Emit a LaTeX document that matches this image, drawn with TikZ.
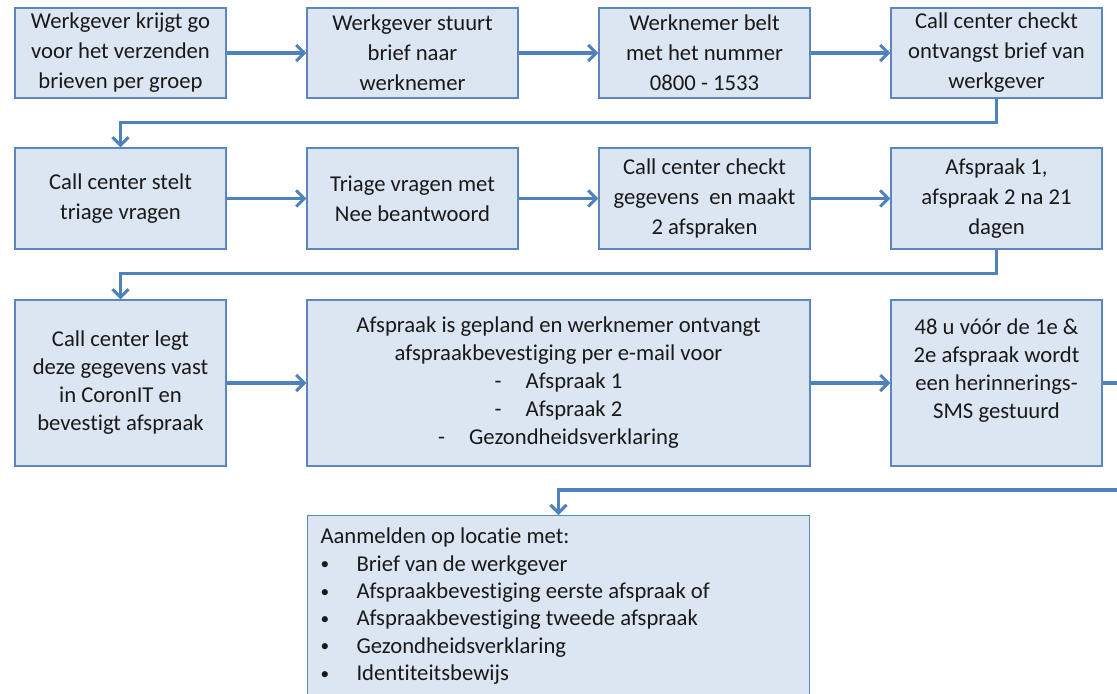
\documentclass[tikz,border=0pt]{standalone}
\usepackage{fontspec}
\setmainfont{Carlito}[Ligatures=NoCommon]
\usetikzlibrary{arrows.meta}
\definecolor{vakvul}{HTML}{DCE6F2}
\definecolor{vakrand}{HTML}{5B86BE}
\definecolor{pijlblauw}{HTML}{4F81BD}
\newcommand{\opsom}{\makebox[27pt][l]{\raisebox{1pt}{\fontsize{13}{13}\selectfont •}}}
\tikzset{
  vak/.style={draw=vakrand, fill=vakvul, line width=0.9pt, align=center, inner sep=2pt,
    minimum width=158.25pt, text=black!90, font=\fontsize{17}{22.5}\selectfont},
  pijl/.style={draw=pijlblauw, line width=2.3pt, ->},
}
\begin{document}
\begin{tikzpicture}[x=0.75pt, y=-0.75pt, >={Straight Barb[length=6pt,width=12pt]}]
  \useasboundingbox (0,0) rectangle (1117,693);
  % rij 1
  \node[vak, minimum height=67.5pt] (werkgever) at (120.5,53) {Werkgever krijgt go\\voor het verzenden\\brieven per groep};
  \node[vak, minimum height=67.5pt] (brief) at (412.5,53) {Werkgever stuurt\\brief naar\\werknemer};
  \node[vak, minimum height=67.5pt] (bellen) at (704.5,53) {Werknemer belt\\met het nummer\\0800 - 1533};
  \node[vak, minimum height=67.5pt] (check) at (996.5,53) {Call center checkt\\ontvangst brief van\\werkgever};
  % rij 2
  \node[vak, minimum height=75.75pt] (triage) at (120.5,198.5) {Call center stelt\\triage vragen};
  \node[vak, minimum height=75.75pt] (nee) at (412.5,198.5) {Triage vragen met\\Nee beantwoord};
  \node[vak, minimum height=75.75pt] (afspraken) at (704.5,198.5) {Call center checkt\\gegevens~ en maakt\\2 afspraken};
  \node[vak, minimum height=75.75pt] (dagen) at (996.5,198.5) {Afspraak 1,\\afspraak 2 na 21\\dagen};
  % rij 3
  \node[vak, minimum height=124.5pt, font=\fontsize{17}{21}\selectfont] (vastleggen) at (120.5,383) {Call center legt\\deze gegevens vast\\in CoronIT en\\bevestigt afspraak};
  \node[vak, minimum height=124.5pt, minimum width=377.25pt, font=\fontsize{17}{21}\selectfont] (bevestiging) at (558.5,383)
    {Afspraak is gepland en werknemer ontvangt\\afspraakbevestiging per e-mail voor\\-\hspace{18pt}Afspraak 1\\-\hspace{18pt}Afspraak 2\\-\hspace{18pt}Gezondheidsverklaring};
  \node[vak, minimum height=124.5pt, font=\fontsize{17}{21}\selectfont] (sms) at (996.5,383) {48 u vóór de 1e \&\\2e afspraak wordt\\een herinnerings-\\SMS gestuurd\\\mbox{}};
  % rij 4
  \node[vak, anchor=north, minimum height=136pt, align=flush left, text width=357pt, inner xsep=10pt,
    font=\fontsize{17}{20.5}\selectfont] (aanmelden) at (558.5,515)
    {Aanmelden op locatie met:\\
     \opsom Brief van de werkgever\\
     \opsom Afspraakbevestiging eerste afspraak of\\
     \opsom Afspraakbevestiging tweede afspraak\\
     \opsom Gezondheidsverklaring\\
     \opsom Identiteitsbewijs};
  % pijlen
  \draw[pijl] (werkgever) -- (brief);
  \draw[pijl] (brief) -- (bellen);
  \draw[pijl] (bellen) -- (check);
  \draw[pijl] (check.south) -- ++(0,24) -| (triage.north);
  \draw[pijl] (triage) -- (nee);
  \draw[pijl] (nee) -- (afspraken);
  \draw[pijl] (afspraken) -- (dagen);
  \draw[pijl] (dagen.south) -- ++(0,24) -| (vastleggen.north);
  \draw[pijl] (vastleggen) -- (bevestiging);
  \draw[pijl] (bevestiging) -- (sms);
  \coordinate (omweg) at (1140,490);
  \draw[pijl] (sms.east) -| (omweg) -| (aanmelden.north);
\end{tikzpicture}
\end{document}
